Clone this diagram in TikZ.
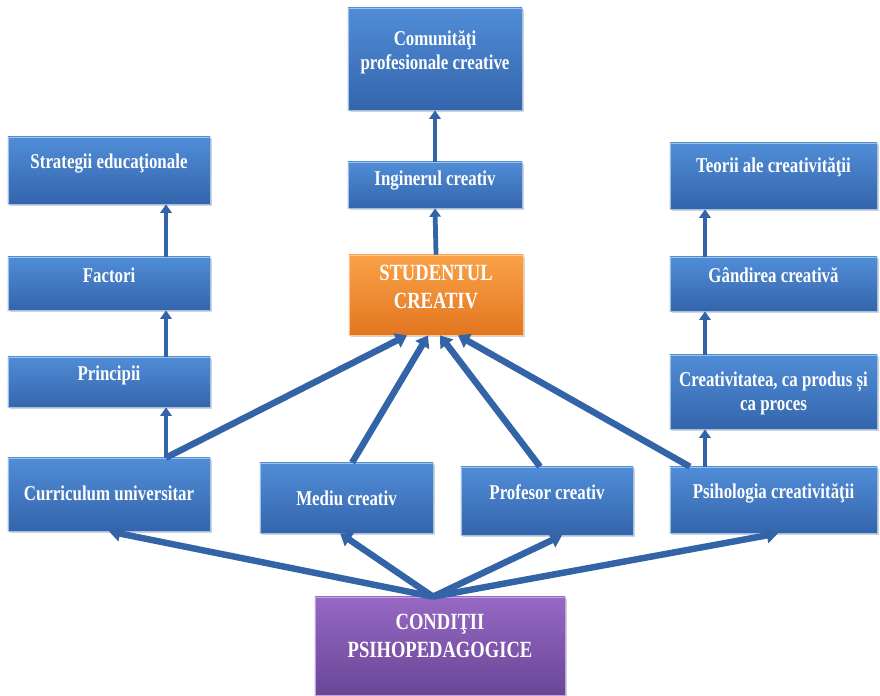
\documentclass[tikz,border=0pt]{standalone}
\usepackage{fontspec}
\setmainfont[FakeStretch=0.8]{Liberation Serif}
\usetikzlibrary{arrows.meta,shadows}
\definecolor{boxtop}{RGB}{80,141,215}
\definecolor{boxbot}{RGB}{52,101,172}
\definecolor{arrowblue}{RGB}{52,100,168}
\definecolor{orangetop}{RGB}{250,162,72}
\definecolor{orangebot}{RGB}{226,118,32}
\definecolor{purpletop}{RGB}{150,104,196}
\definecolor{purplebot}{RGB}{106,70,150}
\tikzset{
  box/.style={rectangle, top color=boxtop, bottom color=boxbot, draw=boxtop!55!white,
    line width=0.5pt, inner sep=0pt,
    drop shadow={shadow xshift=1.2pt, shadow yshift=-1.6pt, opacity=0.35}},
  hot/.style={top color=orangetop, bottom color=orangebot, draw=orangetop!60!white},
  base/.style={top color=purpletop, bottom color=purplebot, draw=purpletop!60!white},
  lbl/.style={text=white, align=center, inner sep=0pt, yshift=#1,
    font=\bfseries\fontsize{15}{17}\selectfont},
  lbl/.default=5pt,
  big/.style={font=\bfseries\fontsize{16.5}{20}\selectfont},
  up/.style={-{Triangle[width=8pt,length=6pt]}, line width=3.4pt, draw=arrowblue},
  link/.style={-{Triangle[width=11pt,length=8pt]}, line width=4.6pt, draw=arrowblue},
}
\begin{document}
\begin{tikzpicture}[x=0.025cm, y=-0.025cm]
\useasboundingbox (0,0) rectangle (880,696);
% left column
\node[box, minimum width=5.05cm, minimum height=1.675cm, label={[lbl]center:Strategii educaţionale}] (strat) at (109,170.5) {};
\node[box, minimum width=5.05cm, minimum height=1.325cm, label={[lbl=6pt]center:Factori}] (fact) at (109,283.5) {};
\node[box, minimum width=5.05cm, minimum height=1.25cm, label={[lbl]center:Principii}] (princ) at (109,382) {};
\node[box, minimum width=5.05cm, minimum height=1.825cm, label={[lbl=1pt]center:Curriculum universitar}] (curr) at (109,494.5) {};
% middle column
\node[box, minimum width=4.35cm, minimum height=2.55cm, label={[lbl]center:Comunităţi\\profesionale creative}] (comun) at (435,59) {};
\node[box, minimum width=4.35cm, minimum height=1.15cm, label={[lbl=3.5pt]center:Inginerul creativ}] (ing) at (435,185) {};
\node[box, hot, minimum width=4.35cm, minimum height=2cm, label={[lbl=6pt, big]center:STUDENTUL\\CREATIV}] (stud) at (436,295) {};
\node[box, minimum width=4.325cm, minimum height=1.75cm, label={[lbl=0pt]center:Mediu creativ}] (mediu) at (346.5,498) {};
\node[box, minimum width=4.3cm, minimum height=1.7cm, label={[lbl=6pt]center:Profesor creativ}] (prof) at (547,501) {};
\node[box, base, minimum width=6.25cm, minimum height=2.45cm, label={[lbl=7pt, big]center:CONDIŢII\\PSIHOPEDAGOGICE}] (cond) at (440,646) {};
% right column
\node[box, minimum width=5.175cm, minimum height=1.65cm, label={[lbl=6pt]center:Teorii ale creativităţii}] (teorii) at (773.5,176) {};
\node[box, minimum width=5.175cm, minimum height=1.35cm, label={[lbl=6.5pt]center:Gândirea creativă}] (gand) at (773.5,284) {};
\node[box, minimum width=5.175cm, minimum height=1.85cm, label={[lbl=-1pt]center:Creativitatea, ca produs și\\ca proces}] (creat) at (773.5,392) {};
\node[box, minimum width=5.175cm, minimum height=1.65cm, label={[lbl=4.5pt]center:Psihologia creativităţii}] (psih) at (773.5,500) {};
% chains upwards
\draw[up] ([xshift=1.425cm]curr.north) -- ([xshift=1.425cm]princ.south);
\draw[up] ([xshift=1.425cm]princ.north) -- ([xshift=1.425cm]fact.south);
\draw[up] ([xshift=1.425cm]fact.north) -- ([xshift=1.425cm]strat.south);
\draw[up] (stud.north) -- (ing.south);
\draw[up] (ing.north) -- (comun.south);
\draw[up] ([xshift=-1.7125cm]psih.north) -- ([xshift=-1.7125cm]creat.south);
\draw[up] ([xshift=-1.7125cm]creat.north) -- ([xshift=-1.7125cm]gand.south);
\draw[up] ([xshift=-1.7125cm]gand.north) -- ([xshift=-1.7125cm]teorii.south);
% into the student
\draw[link] ([xshift=1.425cm]curr.north) -- ([xshift=-0.725cm]stud.south);
\draw[link] ([xshift=0.14cm]mediu.north) -- ([xshift=-0.2cm]stud.south);
\draw[link] ([xshift=-0.175cm]prof.north) -- ([xshift=0.1cm]stud.south);
\draw[link] ([xshift=-2.09cm]psih.north) -- ([xshift=0.55cm]stud.south);
% out of the conditions
\draw[link] ([xshift=-0.175cm]cond.north) -- (curr.south);
\draw[link] ([xshift=-0.175cm]cond.north) -- ([xshift=-0.16cm]mediu.south);
\draw[link] ([xshift=-0.175cm]cond.north) -- ([xshift=0.375cm]prof.south);
\draw[link] ([xshift=-0.175cm]cond.north) -- ([xshift=0.11cm]psih.south);
\end{tikzpicture}
\end{document}
